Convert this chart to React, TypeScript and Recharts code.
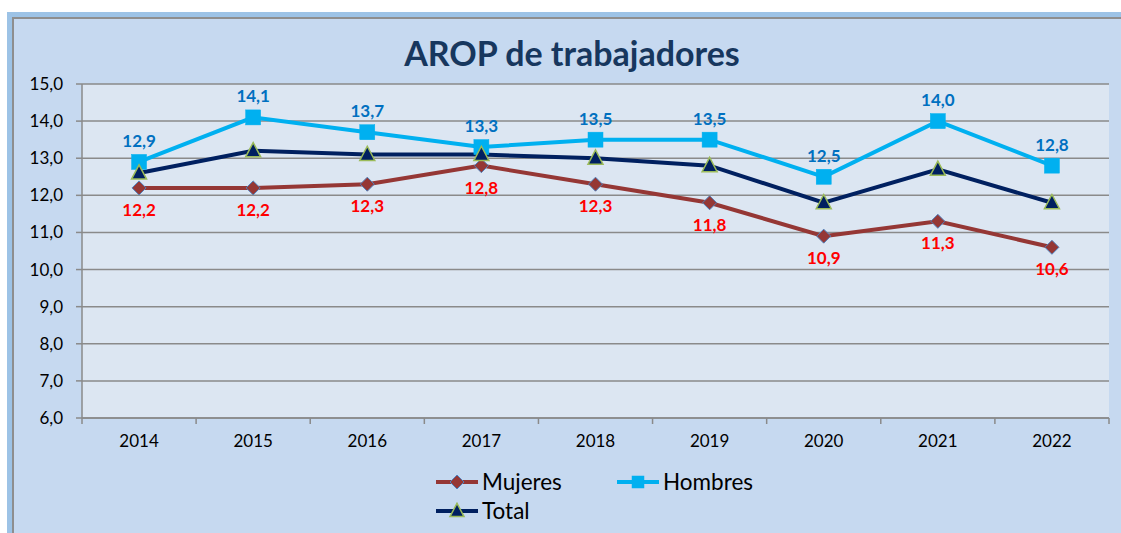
import React from 'react';
import { LineChart, Line, XAxis, YAxis, CartesianGrid, LabelList, Legend } from 'recharts';

const years = ['2014', '2015', '2016', '2017', '2018', '2019', '2020', '2021', '2022'];
const mujeres = [12.2, 12.2, 12.3, 12.8, 12.3, 11.8, 10.9, 11.3, 10.6];
const hombres = [12.9, 14.1, 13.7, 13.3, 13.5, 13.5, 12.5, 14.0, 12.8];
const total = [12.6, 13.2, 13.1, 13.1, 13.0, 12.8, 11.8, 12.7, 11.8];
const yTicks = [6, 7, 8, 9, 10, 11, 12, 13, 14, 15];
const seriesNames = ['Mujeres', 'Hombres', 'Total'];
const chartTitle = 'AROP de trabajadores';

const data = years.map((y, i) => ({ year: y, Mujeres: mujeres[i], Hombres: hombres[i], Total: total[i] }));

const FONT = 'Lato, "Open Sans", sans-serif';
const GRID = '#8a8a8a';
const C_MUJ = '#953735';
const C_HOM = '#00b0f0';
const C_TOT = '#002060';

const fmt = (v: any) => (typeof v === 'number' ? v.toFixed(1).replace('.', ',') : v);

const Diamond = ({ cx, cy, r = 7 }: any) => (
  <polygon
    points={`${cx},${cy - r} ${cx + r},${cy} ${cx},${cy + r} ${cx - r},${cy}`}
    fill={C_MUJ}
    stroke="#4f81bd"
    strokeWidth={1}
  />
);
const Square = ({ cx, cy, s = 15 }: any) => (
  <rect x={cx - s / 2} y={cy - s / 2} width={s} height={s} fill={C_HOM} stroke={C_HOM} strokeWidth={0.5} />
);
const Triangle = ({ cx, cy, s = 15 }: any) => (
  <polygon
    points={`${cx},${cy - s * 0.55} ${cx + s / 2},${cy + s * 0.4} ${cx - s / 2},${cy + s * 0.4}`}
    fill={C_TOT}
    stroke="#9bbb59"
    strokeWidth={1.5}
  />
);

const XTick = (props: any) => {
  const { x, y, payload, index, width } = props;
  const half = width / years.length / 2;
  return (
    <g>
      <line x1={x - half} x2={x - half} y1={y} y2={y + 6} stroke={GRID} strokeWidth={1.5} />
      {index === years.length - 1 && (
        <line x1={x + half} x2={x + half} y1={y} y2={y + 6} stroke={GRID} strokeWidth={1.5} />
      )}
      <text x={x} y={y + 29} textAnchor="middle" fontSize={17} fontFamily={FONT} fill="#000">
        {payload.value}
      </text>
    </g>
  );
};

const markerFor = (name: string, cx: number, cy: number) => {
  if (name === 'Mujeres') return <Diamond cx={cx} cy={cy} r={7} />;
  if (name === 'Hombres') return <Square cx={cx} cy={cy} s={12} />;
  return <Triangle cx={cx} cy={cy} s={14} />;
};

const renderLegend = (props: any) => {
  const { payload = [] } = props;
  const items = [...payload].sort(
    (a: any, b: any) => seriesNames.indexOf(a.value) - seriesNames.indexOf(b.value)
  );
  return (
    <div
      style={{
        display: 'grid',
        gridTemplateColumns: '181px auto',
        gridAutoRows: '29px',
        fontFamily: FONT,
        fontSize: 22.5,
        color: '#000',
      }}
    >
      {items.map((p: any) => (
        <div key={p.value} style={{ display: 'flex', alignItems: 'center' }}>
          <svg width={44} height={18} style={{ marginRight: 3 }}>
            <line x1={1} x2={43} y1={9} y2={9} stroke={p.color} strokeWidth={4} />
            {markerFor(p.value, 22, 9)}
          </svg>
          <span>{p.value}</span>
        </div>
      ))}
    </div>
  );
};

export default function App() {
  return (
    <div style={{ position: 'absolute', left: 0, top: 0, width: 1121, height: 533, background: '#fff', overflow: 'hidden' }}>
      <div
        style={{
          position: 'absolute',
          left: 7,
          top: 12,
          width: 1130,
          height: 540,
          background: '#9dc3e6',
        }}
      />
      <div
        style={{
          position: 'absolute',
          left: 12,
          top: 17,
          width: 1130,
          height: 540,
          background: '#8e8e8e',
        }}
      />
      <div
        style={{
          position: 'absolute',
          left: 14,
          top: 19,
          width: 1130,
          height: 540,
          background: '#c6d9f0',
        }}
      />
      <div
        style={{
          position: 'absolute',
          left: 0,
          width: 1144,
          top: 31,
          textAlign: 'center',
          fontFamily: FONT,
          fontWeight: 700,
          fontSize: 34,
          color: '#17375e',
          lineHeight: '44px',
        }}
      >
        {chartTitle}
      </div>
      <div style={{ position: 'absolute', left: 0, top: 0 }}>
        <LineChart width={1121} height={533} data={data} margin={{ top: 84, right: 12, bottom: 85, left: 22 }}>
          <CartesianGrid horizontal vertical={false} stroke={GRID} strokeWidth={1.5} fill="#dce6f2" />
          <XAxis
            dataKey="year"
            scale="band"
            tick={<XTick />}
            tickLine={false}
            tickSize={0}
            tickMargin={0}
            height={30}
            axisLine={{ stroke: GRID, strokeWidth: 1.5 }}
            interval={0}
          />
          <YAxis
            domain={[6, 15]}
            ticks={yTicks}
            width={60}
            tickFormatter={fmt}
            tickSize={6}
            tickMargin={13}
            tickLine={{ stroke: GRID, strokeWidth: 1.5 }}
            axisLine={{ stroke: GRID, strokeWidth: 1.5 }}
            tick={{ fontSize: 17, fontFamily: FONT, fill: '#000' }}
            interval={0}
          />
          <Legend
            layout="vertical"
            align="center"
            verticalAlign="middle"
            wrapperStyle={{ left: 435, top: 467, width: 380, height: 60 }}
            content={renderLegend}
          />
          <Line
            type="linear"
            dataKey="Mujeres"
            stroke={C_MUJ}
            strokeWidth={4}
            isAnimationActive={false}
            dot={(p: any) => <Diamond key={`m${p.index}`} cx={p.cx} cy={p.cy} r={7} />}
            activeDot={false}
          >
            <LabelList
              dataKey="Mujeres"
              position="bottom"
              offset={16}
              formatter={fmt}
              fill="#ff0000"
              fontSize={17}
              fontWeight={700}
              fontFamily={FONT}
            />
          </Line>
          <Line
            type="linear"
            dataKey="Hombres"
            stroke={C_HOM}
            strokeWidth={4}
            isAnimationActive={false}
            dot={(p: any) => <Square key={`h${p.index}`} cx={p.cx} cy={p.cy} s={15} />}
            activeDot={false}
          >
            <LabelList
              dataKey="Hombres"
              position="top"
              offset={15}
              formatter={fmt}
              fill="#0070c0"
              fontSize={17}
              fontWeight={700}
              fontFamily={FONT}
            />
          </Line>
          <Line
            type="linear"
            dataKey="Total"
            stroke={C_TOT}
            strokeWidth={4}
            isAnimationActive={false}
            dot={(p: any) => <Triangle key={`t${p.index}`} cx={p.cx} cy={p.cy} s={15} />}
            activeDot={false}
          />
        </LineChart>
      </div>
    </div>
  );
}
